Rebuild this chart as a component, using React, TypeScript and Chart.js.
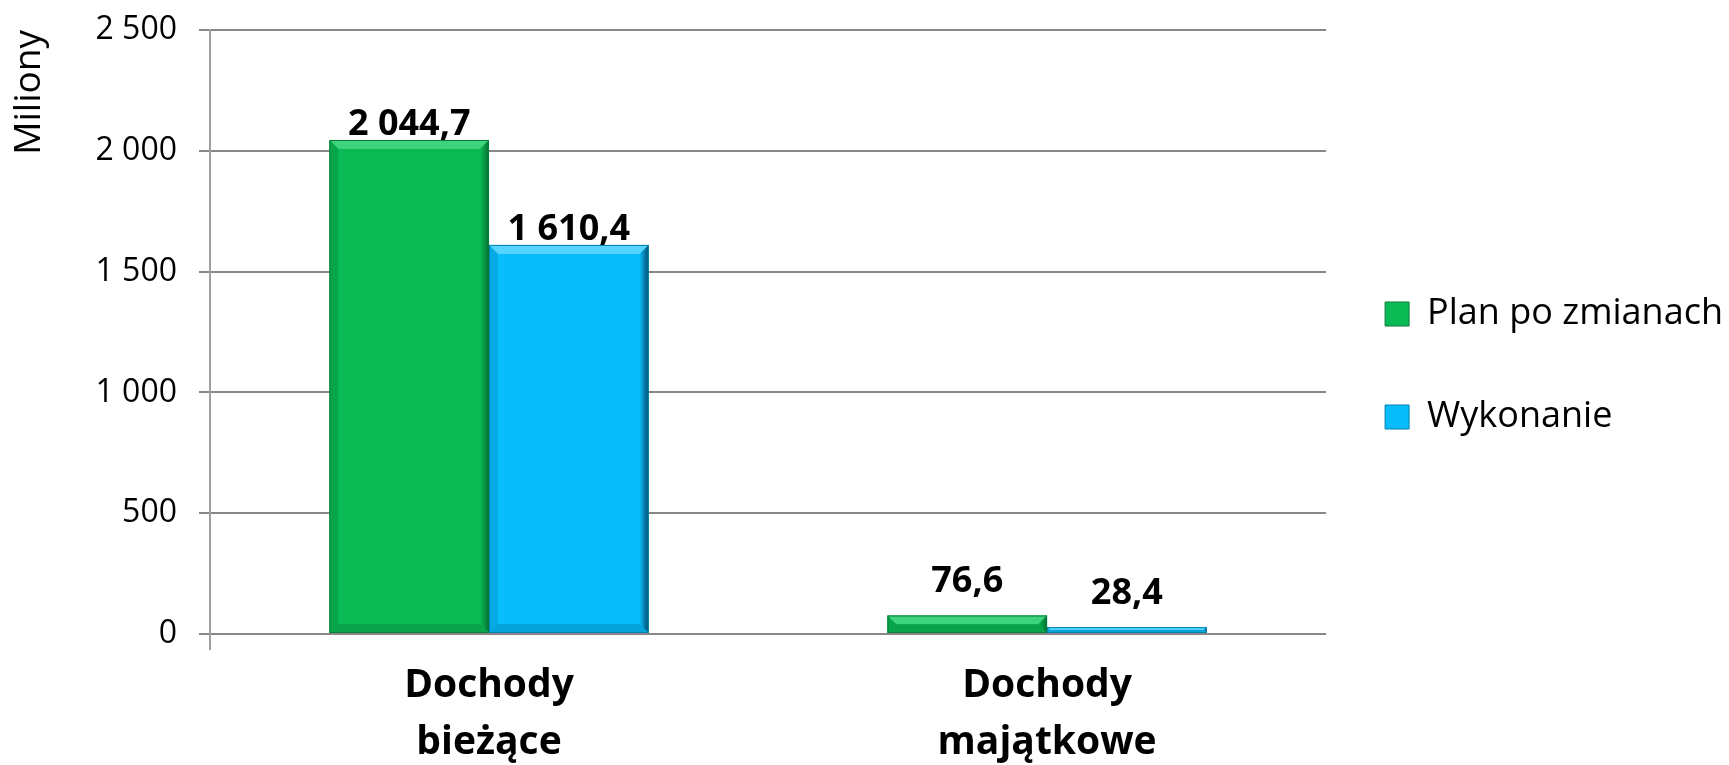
import React, { useEffect, useRef } from "react";
import { Chart, registerables } from "chart.js";

Chart.register(...registerables);

const categories: string[][] = [["Dochody", "bieżące"], ["Dochody", "majątkowe"]];
const seriesNames = ["Plan po zmianach", "Wykonanie"];
const planValues = [2044.7, 76.6];
const wykonanieValues = [1610.4, 28.4];
const yAxisTitle = "Miliony";
const yMin = 0;
const yMax = 2500;
const yStep = 500;

const FONT = "'Open Sans', 'DejaVu Sans', sans-serif";

const palettes = [
  { base: "#0ABB55", top: "#3ED47E", left: "#08A64B", right: "#066F33", bottom: "#08A34A", border: "#067C39" },
  { base: "#08BDF9", top: "#55D4FF", left: "#07ABE3", right: "#03486A", bottom: "#06A3DA", border: "#0580AE" },
];

function fmtThousands(intPart: string) {
  return intPart.replace(/\B(?=(\d{3})+(?!\d))/g, " ");
}
function fmtTick(v: number) {
  return fmtThousands(String(Math.round(v)));
}
function fmtLabel(v: number) {
  const [i, d] = v.toFixed(1).split(".");
  return fmtThousands(i) + "," + d;
}

const bevelPlugin = {
  id: "bevel",
  afterDatasetsDraw(chart: any) {
    const ctx = chart.ctx;
    chart.data.datasets.forEach((ds: any, di: number) => {
      const meta = chart.getDatasetMeta(di);
      const pal = palettes[di];
      meta.data.forEach((bar: any) => {
        const { x, y, base, width } = bar.getProps(["x", "y", "base", "width"], true);
        const l = x - width / 2;
        const r = x + width / 2;
        const t = Math.min(y, base);
        const b = Math.max(y, base);
        const h = b - t;
        const bv = Math.min(9, h / 2);
        ctx.save();
        ctx.fillStyle = pal.base;
        ctx.fillRect(l, t, r - l, h);
        ctx.fillStyle = pal.top;
        ctx.beginPath();
        ctx.moveTo(l, t); ctx.lineTo(r, t); ctx.lineTo(r - bv, t + bv); ctx.lineTo(l + bv, t + bv); ctx.closePath(); ctx.fill();
        ctx.fillStyle = pal.left;
        ctx.beginPath();
        ctx.moveTo(l, t); ctx.lineTo(l + bv, t + bv); ctx.lineTo(l + bv, b - bv); ctx.lineTo(l, b); ctx.closePath(); ctx.fill();
        const g = ctx.createLinearGradient(r - bv, 0, r, 0);
        g.addColorStop(0, pal.base);
        g.addColorStop(1, pal.right);
        ctx.fillStyle = g;
        ctx.beginPath();
        ctx.moveTo(r, t); ctx.lineTo(r, b); ctx.lineTo(r - bv, b - bv); ctx.lineTo(r - bv, t + bv); ctx.closePath(); ctx.fill();
        ctx.fillStyle = pal.bottom;
        ctx.beginPath();
        ctx.moveTo(l, b); ctx.lineTo(r, b); ctx.lineTo(r - bv, b - bv); ctx.lineTo(l + bv, b - bv); ctx.closePath(); ctx.fill();
        ctx.strokeStyle = pal.border;
        ctx.lineWidth = 1;
        ctx.strokeRect(l + 0.5, t + 0.5, r - l - 1, h - 1);
        ctx.restore();
      });
    });
  },
};

const labelPlugin = {
  id: "valueLabels",
  afterDatasetsDraw(chart: any) {
    const ctx = chart.ctx;
    ctx.save();
    ctx.font = `bold 36px ${FONT}`;
    ctx.fillStyle = "#000";
    ctx.textAlign = "center";
    ctx.textBaseline = "alphabetic";
    chart.data.datasets.forEach((ds: any, di: number) => {
      const meta = chart.getDatasetMeta(di);
      meta.data.forEach((bar: any, i: number) => {
        const { x, y, base } = bar.getProps(["x", "y", "base"], true);
        const gap = base - y < 60 ? 23 : 5;
        ctx.fillText(fmtLabel(ds.data[i]), x, y - gap);
      });
    });
    ctx.restore();
  },
};

export default function App() {
  const ref = useRef<HTMLCanvasElement | null>(null);
  useEffect(() => {
    document.body.style.margin = "0";
    if (!ref.current) return;
    Chart.defaults.font.family = FONT;
    Chart.defaults.color = "#000";
    const chart = new Chart(ref.current, {
      type: "bar",
      data: {
        labels: categories,
        datasets: [
          { label: seriesNames[0], data: planValues, backgroundColor: "rgba(0,0,0,0)", borderColor: palettes[0].border, borderWidth: 0 },
          { label: seriesNames[1], data: wykonanieValues, backgroundColor: "rgba(0,0,0,0)", borderColor: palettes[1].border, borderWidth: 0 },
        ],
      },
      plugins: [bevelPlugin, labelPlugin],
      options: {
        animation: false,
        responsive: true,
        maintainAspectRatio: false,
        layout: { padding: { top: 30, right: -4, bottom: 0, left: 0 } },
        datasets: { bar: { categoryPercentage: 0.572, barPercentage: 1 } },
        plugins: {
          tooltip: { enabled: false },
          legend: {
            position: "right",
            align: "center",
            fullSize: false,
            title: { display: true, text: "", font: { size: 1, lineHeight: 1 }, padding: { top: 37, bottom: 37 } },
            labels: {
              boxWidth: 24,
              boxHeight: 24,
              padding: 59,
              color: "#000",
              font: { size: 36, lineHeight: 1.222, family: FONT },
              generateLabels: (chart: any) =>
                chart.data.datasets.map((ds: any, i: number) => ({
                  text: [ds.label],
                  fillStyle: palettes[i].base,
                  strokeStyle: palettes[i].border,
                  fontColor: "#000",
                  lineWidth: 1,
                  hidden: false,
                  datasetIndex: i,
                })),
            },
          },
        },
        scales: {
          x: {
            afterFit: (scale: any) => {
              scale.height = 131;
            },
            border: { display: false },
            grid: {
              display: true,
              drawOnChartArea: false,
              drawTicks: true,
              tickLength: 16,
              offset: true,
              color: (c: any) => (c.index === 0 ? "#A0A0A0" : "rgba(0,0,0,0)"),
              lineWidth: 2,
            },
            ticks: {
              color: "#000",
              padding: 8,
              font: { size: 39, weight: "bold", lineHeight: 1.45, family: FONT },
              maxRotation: 0,
              autoSkip: false,
            },
          },
          y: {
            min: yMin,
            max: yMax,
            afterFit: (scale: any) => {
              scale.width = 210;
              scale.paddingTop = 0;
              scale.paddingBottom = 0;
            },
            border: { display: true, color: "#A0A0A0", width: 2 },
            grid: { color: "#878787", lineWidth: 2, tickLength: 11, drawTicks: true },
            ticks: {
              stepSize: yStep,
              color: "#000",
              padding: 22,
              font: { size: 32, family: FONT },
              callback: (v: any) => fmtTick(Number(v)),
            },
            title: {
              display: true,
              text: yAxisTitle,
              align: "end",
              color: "#000",
              font: { size: 37, family: FONT, lineHeight: 1.2 },
              padding: { top: 7, bottom: 0 },
            },
          },
        },
      },
    });
    return () => chart.destroy();
  }, []);
  return (
    <div style={{ width: 1729, height: 765, position: "relative" }}>
      <canvas ref={ref} />
    </div>
  );
}
